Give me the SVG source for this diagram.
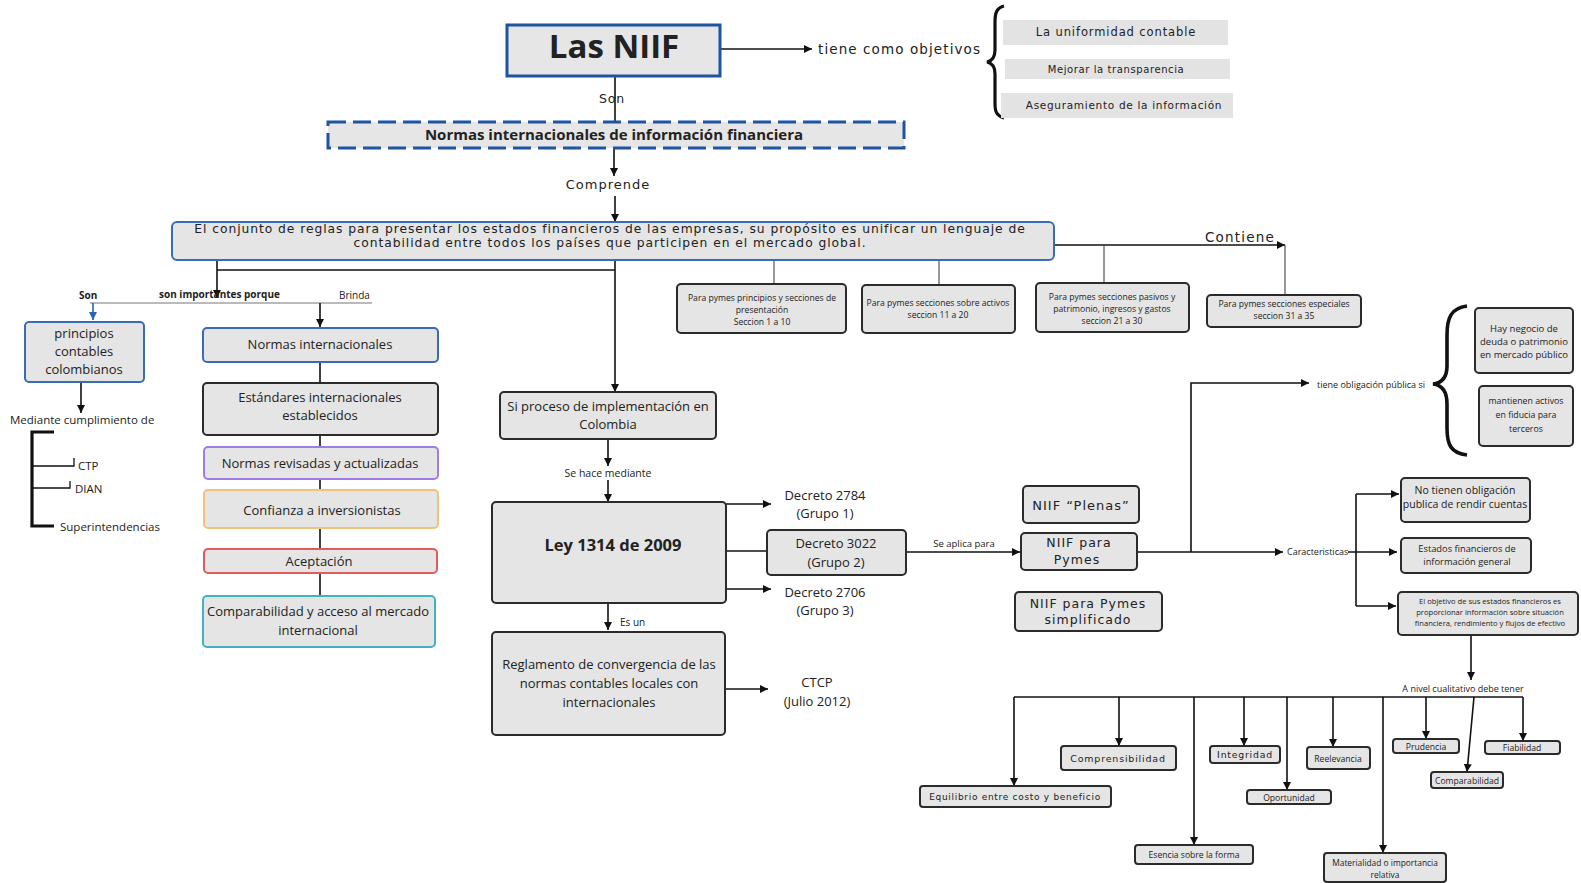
<svg xmlns="http://www.w3.org/2000/svg" width="1581" height="883" viewBox="0 0 1581 883">
<defs>
<marker id="ah" markerUnits="userSpaceOnUse" markerWidth="9" markerHeight="8" refX="8" refY="4" orient="auto"><path d="M0,0 L8,4 L0,8 z" fill="#111"/></marker>
<marker id="ahb" markerUnits="userSpaceOnUse" markerWidth="9" markerHeight="8" refX="8" refY="4" orient="auto"><path d="M0,0 L8,4 L0,8 z" fill="#2a62b8"/></marker>
</defs>
<style>
text{font-family:"Open Sans","Noto Sans",sans-serif;fill:#222}
.geo{font-family:"DejaVu Sans","Noto Sans",sans-serif}
.box{fill:#e5e5e5;stroke:#2b2b2b;stroke-width:2}
.bl{fill:#e5e5e5;stroke:#3a6cb5;stroke-width:2}
.c{text-anchor:middle}
.ln{fill:none;stroke:#111;stroke-width:1.6}
.thick{fill:none;stroke:#111;stroke-width:3.2}
.tk{fill:none;stroke:#111;stroke-width:1.3}
.th{fill:none;stroke:#333;stroke-width:1}
.m13{font-size:13px}
.obj{fill:#e3e3e3}
</style>
<rect width="1581" height="883" fill="#fff"/>

<g id="connectors">
<line class="ln" x1="720" y1="49" x2="812" y2="49" marker-end="url(#ah)"/>
<path class="thick" d="M1004,6 C996,8 995,14 995,22 L995,50 C995,58 992,61 987,62 C992,63 995,66 995,74 L995,104 C995,112 997,116 1004,118"/>
<line class="ln" x1="615" y1="76" x2="615" y2="121"/>
<line class="ln" x1="614" y1="148" x2="614" y2="176" marker-end="url(#ah)"/>
<line class="ln" x1="615" y1="196" x2="615" y2="222" marker-end="url(#ah)"/>
<line class="ln" x1="217" y1="260" x2="217" y2="298" marker-end="url(#ah)"/>
<line class="ln" x1="217" y1="270" x2="615" y2="270"/>
<line class="ln" x1="615" y1="260" x2="615" y2="392" marker-end="url(#ah)"/>
<line x1="90" y1="303" x2="372" y2="303" stroke="#777" stroke-width="1.2"/>
<line x1="93" y1="303" x2="93" y2="320" stroke="#2a62b8" stroke-width="1.6" marker-end="url(#ahb)"/>
<line class="ln" x1="320" y1="303" x2="320" y2="327" marker-end="url(#ah)"/>
<line class="ln" x1="81" y1="382" x2="81" y2="413" marker-end="url(#ah)"/>
<path class="thick" d="M54,432 L32,432 L32,526 L54,526"/>
<path class="tk" d="M32,466 L74,466 L74,458"/>
<path class="tk" d="M32,488 L70,488 L70,481"/>
<line class="ln" x1="320" y1="362" x2="320" y2="383"/>
<line class="ln" x1="320" y1="435" x2="320" y2="447"/>
<line class="ln" x1="320" y1="479" x2="320" y2="490"/>
<line class="ln" x1="320" y1="528" x2="320" y2="549"/>
<line class="ln" x1="320" y1="573" x2="320" y2="596"/>
<line class="th" x1="774" y1="260" x2="774" y2="284"/>
<line class="th" x1="939" y1="260" x2="939" y2="285"/>
<line class="ln" x1="1054" y1="245" x2="1285" y2="245" marker-end="url(#ah)"/>
<line class="th" x1="1104" y1="245" x2="1104" y2="283"/>
<line class="th" x1="1285" y1="245" x2="1285" y2="295"/>
<line class="ln" x1="608" y1="439" x2="608" y2="466" marker-end="url(#ah)"/>
<line class="ln" x1="608" y1="480" x2="608" y2="502" marker-end="url(#ah)"/>
<line class="ln" x1="726" y1="504" x2="771" y2="504" marker-end="url(#ah)"/>
<line class="ln" x1="726" y1="551" x2="767" y2="551"/>
<line class="ln" x1="726" y1="589" x2="771" y2="589" marker-end="url(#ah)"/>
<line class="ln" x1="608" y1="603" x2="608" y2="630" marker-end="url(#ah)"/>
<line class="ln" x1="720" y1="689" x2="768" y2="689" marker-end="url(#ah)"/>
<line class="ln" x1="906" y1="552" x2="1020" y2="552" marker-end="url(#ah)"/>
<line class="ln" x1="1137" y1="552" x2="1283" y2="552" marker-end="url(#ah)"/>
<polyline class="ln" points="1191,552 1191,383 1309,383" marker-end="url(#ah)"/>
<path class="thick" style="stroke-width:3.6" d="M1467,306 C1451,308 1447,318 1447,335 L1447,366 C1447,378 1442,383 1433,384 C1442,385 1447,391 1447,404 L1447,428 C1447,445 1451,453 1467,455"/>
<line class="ln" x1="1348" y1="552" x2="1397" y2="552" marker-end="url(#ah)"/>
<line class="ln" x1="1356" y1="494" x2="1356" y2="606"/>
<line class="ln" x1="1356" y1="494" x2="1399" y2="494" marker-end="url(#ah)"/>
<line class="ln" x1="1356" y1="606" x2="1396" y2="606" marker-end="url(#ah)"/>
<line class="ln" x1="1471" y1="635" x2="1471" y2="680" marker-end="url(#ah)"/>
<line class="ln" x1="1014" y1="697" x2="1523" y2="697"/>
<line class="ln" x1="1014" y1="697" x2="1014" y2="786" marker-end="url(#ah)"/>
<line class="ln" x1="1119" y1="697" x2="1119" y2="746" marker-end="url(#ah)"/>
<line class="ln" x1="1194" y1="697" x2="1194" y2="845" marker-end="url(#ah)"/>
<line class="ln" x1="1244" y1="697" x2="1244" y2="746" marker-end="url(#ah)"/>
<line class="ln" x1="1287" y1="697" x2="1287" y2="790" marker-end="url(#ah)"/>
<line class="ln" x1="1333" y1="697" x2="1333" y2="747" marker-end="url(#ah)"/>
<line class="ln" x1="1383" y1="697" x2="1383" y2="853" marker-end="url(#ah)"/>
<line class="ln" x1="1426" y1="697" x2="1426" y2="739" marker-end="url(#ah)"/>
<line class="ln" x1="1474" y1="697" x2="1467" y2="772" marker-end="url(#ah)"/>
<line class="ln" x1="1523" y1="697" x2="1523" y2="741" marker-end="url(#ah)"/>
</g>

<g id="labels">
<text x="818" y="54" class="geo" font-size="13.5" letter-spacing="1.1" fill="#333">tiene como objetivos</text>
<text x="612" y="103" class="geo c" font-size="12.5" letter-spacing="0.8" fill="#555">Son</text>
<text x="608" y="189" class="geo c" font-size="13" letter-spacing="1" fill="#444">Comprende</text>
<text x="1240" y="242" class="geo c" font-size="13.5" letter-spacing="1.2" fill="#444">Contiene</text>
<text x="79" y="299" font-size="10" font-weight="bold">Son</text>
<text x="159" y="298" font-size="10" font-weight="bold">son importantes porque</text>
<text x="339" y="299" font-size="10" fill="#555">Brinda</text>
<text x="10" y="424" font-size="11.5">Mediante cumplimiento de</text>
<text x="78" y="470" font-size="11.5">CTP</text>
<text x="75" y="493" font-size="11.5">DIAN</text>
<text x="60" y="531" font-size="11.5">Superintendencias</text>
<text x="608" y="477" class="c" font-size="10.5">Se hace mediante</text>
<text x="620" y="626" font-size="10">Es un</text>
<text x="825" y="500" class="c m13">Decreto 2784</text>
<text x="825" y="518" class="c m13">(Grupo 1)</text>
<text x="825" y="597" class="c m13">Decreto 2706</text>
<text x="825" y="615" class="c m13">(Grupo 3)</text>
<text x="817" y="687" class="c m13">CTCP</text>
<text x="817" y="706" class="c m13">(Julio 2012)</text>
<text x="964" y="547" class="c" font-size="9.5">Se aplica para</text>
<text x="1317" y="388" font-size="9" fill="#444">tiene obligación pública si</text>
<text x="1287" y="555" font-size="9" fill="#333">Caracteristicas</text>
<text x="1463" y="692" class="c" font-size="9" fill="#333">A nivel cualitativo debe tener</text>
</g>

<g id="n-lasniif"><rect x="507" y="25" width="213" height="51" fill="#e6e6e6" stroke="#1d55a3" stroke-width="3"/>
<text x="614" y="58" class="c" font-size="33" font-weight="bold" fill="#111">Las NIIF</text></g>

<g id="n-obj1"><rect class="obj" x="1003" y="20" width="225" height="25"/><text x="1116" y="36" class="geo c" font-size="11.5" letter-spacing="0.9" fill="#333">La uniformidad contable</text></g>
<g id="n-obj2"><rect class="obj" x="1005" y="59" width="225" height="20"/><text x="1116" y="73" class="geo c" font-size="10" letter-spacing="0.6" fill="#333">Mejorar la transparencia</text></g>
<g id="n-obj3"><rect class="obj" x="1001" y="93" width="232" height="25"/><text x="1124" y="109" class="geo c" font-size="10.5" letter-spacing="0.7" fill="#333">Aseguramiento de la información</text></g>

<g id="n-normas"><rect x="328" y="122" width="576" height="26" fill="#e6e6e6" stroke="#1d55a3" stroke-width="3" stroke-dasharray="18 7"/>
<text x="614" y="140" class="c" font-size="15" font-weight="bold" fill="#111">Normas internacionales de información financiera</text></g>

<g id="n-conjunto"><rect x="172" y="222" width="882" height="38" rx="5" class="bl"/>
<text x="610" y="233" class="geo c" font-size="12.3" letter-spacing="0.95" fill="#7a7a7a">El conjunto de reglas para presentar los estados financieros de las empresas, su propósito es unificar un lenguaje de</text>
<text x="610" y="247" class="geo c" font-size="12.3" letter-spacing="0.95" fill="#7a7a7a">contabilidad entre todos los países que participen en el mercado global.</text></g>

<g id="n-p1"><rect x="677" y="284" width="169" height="49" rx="4" class="box"/>
<text x="762" y="301" class="c" font-size="8.6">Para pymes principios y secciones de</text>
<text x="762" y="313" class="c" font-size="8.6">presentación</text>
<text x="762" y="325" class="c" font-size="8.6">Seccion 1 a 10</text></g>
<g id="n-p2"><rect x="862" y="285" width="153" height="48" rx="4" class="box"/>
<text x="938" y="306" class="c" font-size="8.6">Para pymes secciones sobre activos</text>
<text x="938" y="318" class="c" font-size="8.6">seccion 11 a 20</text></g>
<g id="n-p3"><rect x="1036" y="283" width="153" height="49" rx="4" class="box"/>
<text x="1112" y="300" class="c" font-size="8.6">Para pymes secciones pasivos y</text>
<text x="1112" y="312" class="c" font-size="8.6">patrimonio, ingresos y gastos</text>
<text x="1112" y="324" class="c" font-size="8.6">seccion 21 a 30</text></g>
<g id="n-p4"><rect x="1207" y="295" width="154" height="32" rx="4" class="box"/>
<text x="1284" y="307" class="c" font-size="8.6">Para pymes secciones especiales</text>
<text x="1284" y="319" class="c" font-size="8.6">seccion 31 a 35</text></g>

<g id="n-principios"><rect x="25" y="322" width="119" height="60" rx="4" class="bl"/>
<text x="84" y="338" class="c m13">principios</text>
<text x="84" y="356" class="c m13">contables</text>
<text x="84" y="374" class="c m13">colombianos</text></g>

<g id="n-ni"><rect x="203" y="328" width="235" height="34" rx="4" class="bl"/><text x="320" y="349" class="c m13">Normas internacionales</text></g>
<g id="n-est"><rect x="203" y="383" width="235" height="52" rx="4" class="box"/><text x="320" y="402" class="c m13">Estándares internacionales</text><text x="320" y="420" class="c m13">establecidos</text></g>
<g id="n-rev"><rect x="204" y="447" width="234" height="32" rx="4" fill="#e5e5e5" stroke="#a07ce6" stroke-width="2"/><text x="320" y="468" class="c m13">Normas revisadas y actualizadas</text></g>
<g id="n-conf"><rect x="204" y="490" width="234" height="38" rx="4" fill="#e5e5e5" stroke="#f2c27a" stroke-width="2"/><text x="322" y="515" class="c m13">Confianza a inversionistas</text></g>
<g id="n-acep"><rect x="204" y="549" width="233" height="24" rx="4" fill="#e5e5e5" stroke="#e25a5a" stroke-width="2"/><text x="319" y="566" class="c m13">Aceptación</text></g>
<g id="n-comp"><rect x="203" y="596" width="232" height="51" rx="4" fill="#e5e5e5" stroke="#3fb3c2" stroke-width="2"/><text x="318" y="616" class="c m13">Comparabilidad y acceso al mercado</text><text x="318" y="635" class="c m13">internacional</text></g>

<g id="n-siproceso"><rect x="500" y="392" width="216" height="47" rx="4" class="box"/><text x="608" y="411" class="c m13">Si proceso de implementación en</text><text x="608" y="429" class="c m13">Colombia</text></g>
<g id="n-ley"><rect x="492" y="502" width="234" height="101" rx="4" class="box"/><text x="613" y="551" class="c" font-size="16.5" font-weight="bold" fill="#111">Ley  1314 de 2009</text></g>
<g id="n-d3022"><rect x="767" y="530" width="139" height="45" rx="4" class="box"/><text x="836" y="548" class="c m13">Decreto 3022</text><text x="836" y="567" class="c m13">(Grupo 2)</text></g>
<g id="n-regl"><rect x="492" y="632" width="233" height="103" rx="4" class="box"/><text x="609" y="669" class="c m13">Reglamento de convergencia de las</text><text x="609" y="688" class="c m13">normas contables locales con</text><text x="609" y="707" class="c m13">internacionales</text></g>

<g id="n-plenas"><rect x="1023" y="486" width="116" height="37" rx="4" class="box"/><text x="1081" y="510" class="geo c" font-size="13" letter-spacing="1" fill="#333">NIIF “Plenas”</text></g>
<g id="n-pymes"><rect x="1021" y="533" width="116" height="37" rx="4" class="box"/><text x="1079" y="547" class="geo c" font-size="12.5" letter-spacing="1" fill="#333">NIIF para</text><text x="1077" y="564" class="geo c" font-size="12.5" letter-spacing="1" fill="#333">Pymes</text></g>
<g id="n-simpl"><rect x="1015" y="592" width="147" height="39" rx="4" class="box"/><text x="1088" y="608" class="geo c" font-size="12.5" letter-spacing="1" fill="#333">NIIF para Pymes</text><text x="1088" y="624" class="geo c" font-size="12.5" letter-spacing="1" fill="#333">simplificado</text></g>

<g id="n-hay"><rect x="1475" y="308" width="98" height="65" rx="4" class="box"/><text x="1524" y="332" class="c" font-size="9.5">Hay negocio de</text><text x="1524" y="345" class="c" font-size="9.5">deuda o patrimonio</text><text x="1524" y="358" class="c" font-size="9.5">en mercado público</text></g>
<g id="n-mant"><rect x="1479" y="386" width="94" height="60" rx="4" class="box"/><text x="1526" y="404" class="c" font-size="8.8">mantienen activos</text><text x="1526" y="418" class="c" font-size="8.8">en fiducia para</text><text x="1526" y="432" class="c" font-size="8.8">terceros</text></g>
<g id="n-notienen"><rect x="1401" y="478" width="129" height="44" rx="4" class="box"/><text x="1465" y="494" class="c" font-size="10.5">No tienen obligación</text><text x="1465" y="508" class="c" font-size="10.5">publica de rendir cuentas</text></g>
<g id="n-estados"><rect x="1401" y="538" width="130" height="35" rx="4" class="box"/><text x="1467" y="552" class="c" font-size="9.3">Estados financieros de</text><text x="1467" y="565" class="c" font-size="9.3">información general</text></g>
<g id="n-objetivo"><rect x="1398" y="592" width="180" height="43" rx="4" class="box"/><text x="1490" y="604" class="c" font-size="7.6">El objetivo de sus estados financieros es</text><text x="1490" y="615" class="c" font-size="7.6">proporcionar información sobre situación</text><text x="1490" y="626" class="c" font-size="7.6">financiera, rendimiento y flujos de efectivo</text></g>

<g id="n-equil"><rect x="920" y="786" width="191" height="21" rx="3" class="box"/><text x="1015" y="800" class="geo c" font-size="9" letter-spacing="0.7" fill="#444">Equilibrio entre costo y beneficio</text></g>
<g id="n-compr"><rect x="1061" y="746" width="115" height="24" rx="3" class="box"/><text x="1118" y="762" class="geo c" font-size="9.5" letter-spacing="0.8" fill="#444">Comprensibilidad</text></g>
<g id="n-esencia"><rect x="1135" y="845" width="118" height="19" rx="3" class="box"/><text x="1194" y="858" class="c" font-size="8.6">Esencia sobre la forma</text></g>
<g id="n-integ"><rect x="1210" y="746" width="70" height="17" rx="3" class="box"/><text x="1245" y="758" class="geo c" font-size="9.3" letter-spacing="0.8" fill="#444">Integridad</text></g>
<g id="n-oport"><rect x="1247" y="790" width="84" height="14" rx="3" class="box"/><text x="1289" y="801" class="c" font-size="8.6">Oportunidad</text></g>
<g id="n-reel"><rect x="1307" y="747" width="63" height="22" rx="3" class="box"/><text x="1338" y="762" class="c" font-size="8.6">Reelevancia</text></g>
<g id="n-mater"><rect x="1324" y="853" width="122" height="29" rx="3" class="box"/><text x="1385" y="866" class="c" font-size="8.4">Materialidad o importancia</text><text x="1385" y="878" class="c" font-size="8.4">relativa</text></g>
<g id="n-prud"><rect x="1393" y="739" width="66" height="14" rx="3" class="box"/><text x="1426" y="750" class="c" font-size="8.6">Prudencia</text></g>
<g id="n-compa"><rect x="1431" y="772" width="72" height="16" rx="3" class="box"/><text x="1467" y="784" class="c" font-size="8.6">Comparabilidad</text></g>
<g id="n-fiab"><rect x="1485" y="741" width="75" height="13" rx="3" class="box"/><text x="1522" y="751" class="c" font-size="8.6">Fiabilidad</text></g>
</svg>
